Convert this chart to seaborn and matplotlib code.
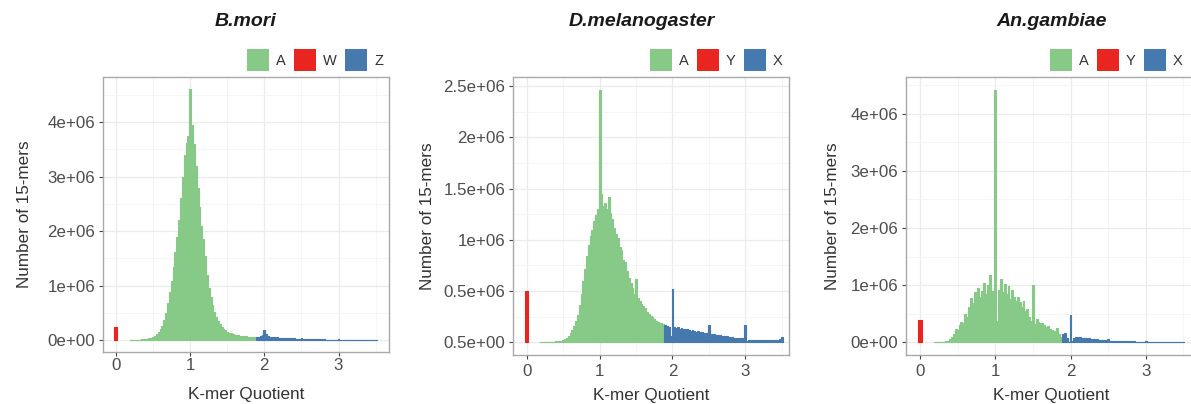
import numpy as np
import matplotlib
matplotlib.use("Agg")
import matplotlib.pyplot as plt
from matplotlib.patches import Patch
from matplotlib.ticker import MultipleLocator
import seaborn as sns

sns.set_theme(style="white")
plt.rcParams["font.family"] = ["Liberation Sans", "DejaVu Sans"]

# Colours (ggplot style fills)
GREEN = "#87C986"
RED = "#E8251F"
BLUE = "#4679AD"

BIN = 0.025      # bin width of the K-mer quotient histograms
SEX_BIN = 0.04   # width of the single bar at quotient 0
SCALE = 1e6      # counts below are given in millions

# ---- B.mori ---------------------------------------------------------
bmori_A_start = 0.2
bmori_A = [0.0, 0.0, 0.005, 0.005, 0.008, 0.01, 0.015, 0.02,
           0.025, 0.03, 0.04, 0.05, 0.06, 0.08, 0.11, 0.15,
           0.2, 0.27, 0.37, 0.5, 0.68, 0.88, 1.08, 1.35,
           1.62, 1.9, 2.2, 2.6, 3.0, 3.4, 3.62, 3.75,
           4.6, 3.95, 3.6, 3.2, 2.8, 2.45, 2.1, 1.85,
           1.55, 1.2, 0.95, 0.8, 0.64, 0.52, 0.42, 0.35,
           0.29, 0.25, 0.21, 0.18, 0.16, 0.14, 0.125, 0.11,
           0.1, 0.095, 0.09, 0.085, 0.08, 0.075, 0.07, 0.068,
           0.065, 0.062, 0.06, 0.058]
bmori_Z_start = 1.9
bmori_Z = [0.06, 0.06, 0.07, 0.1, 0.19, 0.12, 0.08, 0.065,
           0.06, 0.058, 0.055, 0.052, 0.05, 0.048, 0.046, 0.044,
           0.042, 0.04, 0.038, 0.036, 0.034, 0.032, 0.03, 0.03,
           0.04, 0.028, 0.026, 0.025, 0.024, 0.022, 0.021, 0.02,
           0.019, 0.018, 0.017, 0.016, 0.015, 0.014, 0.013, 0.012,
           0.012, 0.011, 0.011, 0.01, 0.02, 0.01, 0.009, 0.009,
           0.008, 0.008, 0.008, 0.007, 0.007, 0.007, 0.006, 0.006,
           0.006, 0.006, 0.005, 0.005, 0.005, 0.005, 0.005, 0.004,
           0.004]
bmori_W = 0.25

# ---- D.melanogaster -------------------------------------------------
dmel_A_start = 0.2
dmel_A = [0.0, 0.0, 0.0, 0.002, 0.003, 0.004, 0.005, 0.006,
          0.008, 0.01, 0.012, 0.015, 0.02, 0.03, 0.045, 0.065,
          0.09, 0.12, 0.16, 0.21, 0.27, 0.36, 0.47, 0.6,
          0.72, 0.84, 0.95, 1.04, 1.1, 1.18, 1.24, 1.3,
          2.46, 1.45, 1.33, 1.36, 1.3, 1.42, 1.26, 1.2,
          1.12, 1.06, 1.02, 0.93, 0.9, 0.8, 0.78, 0.7,
          0.63, 0.58, 0.53, 0.47, 0.62, 0.43, 0.4, 0.37,
          0.35, 0.33, 0.3, 0.28, 0.26, 0.25, 0.23, 0.21,
          0.2, 0.19, 0.185, 0.18]
dmel_X_start = 1.9
dmel_X = [0.17, 0.16, 0.15, 0.06, 0.52, 0.15, 0.14, 0.145,
          0.13, 0.14, 0.13, 0.125, 0.13, 0.12, 0.115, 0.12,
          0.11, 0.105, 0.11, 0.1, 0.1, 0.095, 0.09, 0.09,
          0.165, 0.085, 0.08, 0.085, 0.075, 0.075, 0.07, 0.065,
          0.065, 0.06, 0.058, 0.055, 0.05, 0.05, 0.045, 0.045,
          0.042, 0.04, 0.038, 0.036, 0.165, 0.012, 0.025, 0.024,
          0.025, 0.024, 0.025, 0.023, 0.024, 0.025, 0.023, 0.024,
          0.024, 0.023, 0.025, 0.024, 0.023, 0.024, 0.025, 0.03,
          0.05]
dmel_Y = 0.5

# ---- An.gambiae -----------------------------------------------------
angam_A_start = 0.2
angam_A = [0.0, 0.0, 0.0, 0.002, 0.005, 0.008, 0.015, 0.03,
           0.06, 0.1, 0.15, 0.24, 0.22, 0.3, 0.35, 0.33,
           0.5, 0.45, 0.62, 0.78, 0.68, 0.88, 0.7, 0.95,
           0.8, 0.9, 1.03, 0.85, 1.0, 1.18, 0.8, 0.9,
           4.42, 0.38, 0.92, 1.1, 0.88, 1.02, 0.85, 0.98,
           0.75, 0.92, 0.8, 0.72, 0.8, 0.7, 0.62, 0.72,
           0.55, 0.58, 0.45, 0.38, 1.0, 0.32, 0.4, 0.36,
           0.33, 0.34, 0.3, 0.27, 0.28, 0.24, 0.22, 0.2,
           0.19, 0.25, 0.14, 0.1]
angam_X_start = 1.9
angam_X = [0.15, 0.17, 0.08, 0.01, 0.47, 0.03, 0.08, 0.1,
           0.09, 0.1, 0.07, 0.08, 0.07, 0.065, 0.07, 0.06,
           0.055, 0.05, 0.055, 0.045, 0.045, 0.04, 0.035, 0.035,
           0.06, 0.03, 0.03, 0.028, 0.025, 0.025, 0.022, 0.02,
           0.02, 0.018, 0.018, 0.016, 0.016, 0.015, 0.014, 0.013,
           0.012, 0.012, 0.011, 0.011, 0.03, 0.01, 0.01, 0.009,
           0.009, 0.008, 0.008, 0.008, 0.007, 0.007, 0.007, 0.006,
           0.006, 0.006, 0.006, 0.005, 0.005, 0.005, 0.005, 0.005,
           0.005]
angam_Y = 0.39

# ---- axis ticks -----------------------------------------------------
x_ticks = [0, 1, 2, 3]
y_ticks_big = [0, 1e6, 2e6, 3e6, 4e6]
y_labels_big = ["0e+00", "1e+06", "2e+06", "3e+06", "4e+06"]
y_ticks_dmel = [0, 0.5e6, 1e6, 1.5e6, 2e6, 2.5e6]
y_labels_dmel = ["0.5e+00", "0.5e+06", "1e+06", "1.5e+06", "2e+06", "2.5e+06"]

FIG_W, FIG_H = 1191, 404


def draw_hist(ax, start, values, color, width=BIN):
    centers = start + width * np.arange(len(values))
    sns.histplot(x=centers, weights=np.asarray(values) * SCALE,
                 bins=len(values),
                 binrange=(centers[0] - width / 2, centers[-1] + width / 2),
                 element="step", fill=True, color=color, alpha=1,
                 facecolor=color, edgecolor=color, linewidth=0.8, ax=ax)


def px_axes(left, top, right, bottom):
    return [left / FIG_W, 1 - bottom / FIG_H, (right - left) / FIG_W, (bottom - top) / FIG_H]


panels = [
    dict(title="B.mori", rect=px_axes(103, 77, 389, 352),
         A=(bmori_A_start, bmori_A), sex2=(bmori_Z_start, bmori_Z), sex1=bmori_W,
         labels=["A", "W", "Z"], xlim=(-0.175, 3.68), ylim=(-0.215e6, 4.826e6),
         yticks=y_ticks_big, ylabels=y_labels_big, yminor=0.5e6,
         title_x=0.497, ylab_x=-0.276, xlab_y=-0.156, leg_x=247, xpad=1.5),
    dict(title="D.melanogaster", rect=px_axes(513, 77, 789, 355),
         A=(dmel_A_start, dmel_A), sex2=(dmel_X_start, dmel_X), sex1=dmel_Y,
         labels=["A", "Y", "X"], xlim=(-0.19, 3.60), ylim=(-0.124e6, 2.59e6),
         yticks=y_ticks_dmel, ylabels=y_labels_dmel, yminor=0.25e6,
         title_x=0.467, ylab_x=-0.308, xlab_y=-0.144, leg_x=650, xpad=3.5),
    dict(title="An.gambiae", rect=px_axes(906, 77, 1197, 355),
         A=(angam_A_start, angam_A), sex2=(angam_X_start, angam_X), sex1=angam_Y,
         labels=["A", "Y", "X"], xlim=(-0.186, 3.68), ylim=(-0.223e6, 4.64e6),
         yticks=y_ticks_big, ylabels=y_labels_big, yminor=0.5e6,
         title_x=0.502, ylab_x=-0.251, xlab_y=-0.144, leg_x=1050, xpad=3.5),
]

fig = plt.figure(figsize=(FIG_W / 100, FIG_H / 100), dpi=100)

for p in panels:
    ax = fig.add_axes(p["rect"])
    ax.set_axisbelow(True)

    draw_hist(ax, p["A"][0], p["A"][1], GREEN)
    draw_hist(ax, p["sex2"][0], p["sex2"][1], BLUE)
    draw_hist(ax, 0.0, [p["sex1"]], RED, width=SEX_BIN)

    ax.set_xlim(*p["xlim"])
    ax.set_ylim(*p["ylim"])
    ax.set_xticks(x_ticks)
    ax.set_xticklabels([str(t) for t in x_ticks])
    ax.set_yticks(p["yticks"])
    ax.set_yticklabels(p["ylabels"])
    ax.xaxis.set_minor_locator(MultipleLocator(0.5))
    ax.yaxis.set_minor_locator(MultipleLocator(p["yminor"]))

    ax.grid(which="major", color="#EBEBEB", linewidth=0.9)
    ax.grid(which="minor", color="#F4F4F4", linewidth=0.6)
    ax.tick_params(which="major", direction="out", length=3, width=0.8,
                   color="#444444", labelcolor="#4D4D4D", labelsize=12.2,
                   left=True, bottom=True)
    ax.tick_params(axis="x", pad=p["xpad"])
    ax.tick_params(axis="y", pad=2.5)
    ax.tick_params(which="minor", length=0)
    for s in ax.spines.values():
        s.set_color("#A9A9A9")
        s.set_linewidth(1.0)

    ax.set_xlabel("K-mer Quotient", fontsize=12.3, color="#333333")
    ax.set_ylabel("Number of 15-mers", fontsize=12.3, color="#333333")
    ax.xaxis.set_label_coords(0.5, p["xlab_y"])
    ax.xaxis.label.set_verticalalignment("center")
    ax.yaxis.set_label_coords(p["ylab_x"], 0.5)
    ax.yaxis.label.set_verticalalignment("center")

    ax.text(p["title_x"], 1 + 55 / (p["rect"][3] * FIG_H), p["title"],
            transform=ax.transAxes, ha="center", va="center",
            fontsize=14, fontweight="bold", fontstyle="italic", color="#1A1A1A")

    handles = [Patch(facecolor=c, edgecolor="none") for c in (GREEN, RED, BLUE)]
    ax.legend(handles, p["labels"], ncol=3, frameon=False, fontsize=10.5,
              loc="lower left",
              bbox_to_anchor=(p["leg_x"] / FIG_W, 1 - 71 / FIG_H),
              bbox_transform=fig.transFigure,
              handlelength=1.5, handleheight=1.95, handletextpad=0.5,
              columnspacing=0.55, borderpad=0, borderaxespad=0,
              labelcolor="#333333")

fig.savefig("out.png", dpi=100)
